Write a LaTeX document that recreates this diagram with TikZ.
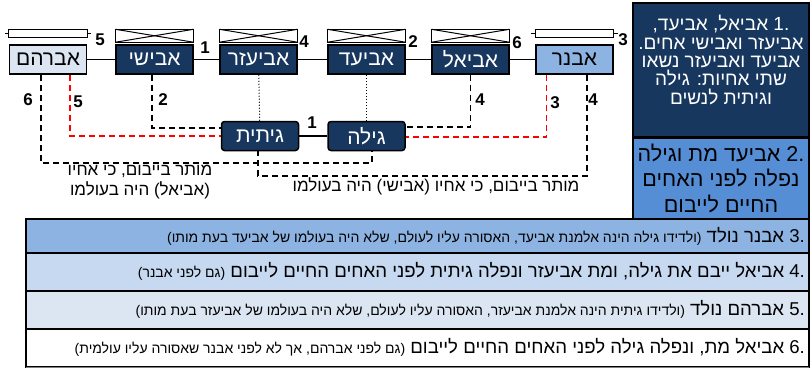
\documentclass[tikz,border=0pt]{standalone}
\usepackage{fontspec}
\setmainfont{Liberation Sans}[Script=Hebrew]
\TeXXeTstate=1
\definecolor{navy}{HTML}{17375E}
\definecolor{pale}{HTML}{DCE6F2}
\definecolor{paleblue}{HTML}{C6D9F1}
\definecolor{midblue}{HTML}{8DB3E2}
\definecolor{boxblue}{HTML}{558ED5}
\definecolor{levred}{HTML}{FF0000}
\newcommand{\rtl}[1]{\beginR #1\endR}

\tikzset{
  brother/.style={draw=black, line width=1.5pt, fill=navy, text=white,
    minimum width=77pt, minimum height=29pt, inner sep=0pt,
    font=\fontsize{21}{21}\selectfont},
  widow/.style={brother, rounded corners=3pt},
  num/.style={inner sep=0pt, font=\bfseries\fontsize{17}{17}\selectfont},
  link/.style={line width=1.5pt},
  levir/.style={line width=1.5pt, dash pattern=on 6pt off 4pt},
  rowtext/.style={anchor=east, inner sep=0pt, font=\fontsize{18.6}{20}\selectfont},
  note/.style={inner sep=0pt, font=\fontsize{17}{20}\selectfont, align=center}
}
\newcommand{\smalltext}[1]{{\fontsize{14}{14}\selectfont #1}}

\begin{document}
\begin{tikzpicture}[x=1pt,y=-1pt]
\useasboundingbox (0,0) rectangle (810,370);

% the six brothers
\node[brother, fill=pale, text=black] (avraham) at (48,59.5) {\rtl{אברהם}};
\foreach \nm/\cx/\lbl in {avishai/154.5/אבישי, aviezer/258.5/אביעזר, aviad/366.5/אביעד, aviel/470.5/אביאל}
{
	\node[brother] (\nm) at (\cx,59.5) {\rtl{\lbl}};
	\draw[line width=1pt] ([yshift=2pt]\nm.north west) rectangle ([yshift=15pt]\nm.north east);
	\draw[line width=1pt] ([yshift=2pt]\nm.north west) -- ([yshift=15pt]\nm.north east);
	\draw[line width=1pt] ([yshift=15pt]\nm.north west) -- ([yshift=2pt]\nm.north east);
}
\node[brother, fill=midblue, text=black] (avner) at (574.5,59.5) {\rtl{אבנר}};
\foreach \nm in {avraham,avner}
{
	\draw[line width=1pt] ([yshift=7pt]\nm.north west) rectangle ([yshift=15pt]\nm.north east);
	\draw[line width=1pt] ([yshift=11pt]\nm.north west) -- ++(-4,0);
	\draw[line width=1pt] ([yshift=11pt]\nm.north east) -- ++(4,0);
}

% the two sisters
\node[widow] (gitit) at (260,136) {\rtl{גיתית}};
\node[widow] (gila) at (366.5,136) {\rtl{גילה}};

\draw[link] (avraham) -- (avishai);
\draw[link] (avishai) -- (aviezer);
\draw[link] (aviezer) -- (aviad);
\draw[link] (aviad) -- (aviel);
\draw[link] (aviel) -- (avner);
\draw[link] (gitit) -- (gila);
\draw[line width=1pt, dotted] (aviezer) -- (gitit);
\draw[line width=1pt, dotted] (aviad) -- (gila);

% levirate links
\draw[levir] ([xshift=-2.5pt]avishai.south) |- ([yshift=8pt]gitit.west);
\draw[levir, levred] ([xshift=22pt]avraham.south) |- (gitit.west);
\draw[levir] ([xshift=-7pt]avraham.south) -- ++(0,88) -| ([xshift=5.5pt]gila.south);
\draw[levir] (aviel.south) |- ([yshift=9pt]gila.east);
\draw[levir, levred] ([xshift=-28pt]avner.south) |- ([yshift=-1pt]gila.east);
\draw[levir] ([xshift=12.5pt]avner.south) -- ++(0,101) -| ([xshift=-2pt]gitit.south);

% order numbers
\node[num] (n5a) at (100,40) {5};
\node[num] (n1a) at (205,48) {1};
\node[num] (n4a) at (304,42) {4};
\node[num] (n2a) at (413,42) {2};
\node[num] (n6a) at (517,43) {6};
\node[num] (n3a) at (623,40) {3};
\node[num] (n6b) at (28,100) {6};
\node[num] (n5b) at (78,102) {5};
\node[num] (n2b) at (163,100) {2};
\node[num] (n1b) at (312,123) {1};
\node[num] (n4b) at (480,100) {4};
\node[num] (n3b) at (555,103) {3};
\node[num] (n4c) at (593,100) {4};

\node[note] (allowa) at (140,182) {\rtl{מותר בייבום, כי אחיו}\\\rtl{(אביאל) היה בעולמו}};
\node[note] (allowb) at (436,186) {\rtl{מותר בייבום, כי אחיו (אבישי) היה בעולמו}};

% side notes
\draw[line width=1.5pt, fill=navy] (633,3) rectangle (809,137);
\draw[line width=1.5pt, fill=boxblue] (633,138) rectangle (809,219);
\node[note, text=white, font=\fontsize{19}{18.4}\selectfont] (step1) at (721,60)
	{\rtl{.1 אביאל, אביעד,}\\\rtl{אביעזר ואבישי אחים.}\\\rtl{אביעד ואביעזר נשאו}\\\rtl{שתי אחיות: גילה}\\\rtl{וגיתית לנשים}};
\node[note, font=\fontsize{21.5}{25.5}\selectfont] (step2) at (721,178)
	{\rtl{.2 אביעד מת וגילה}\\\rtl{נפלה לפני האחים}\\\rtl{החיים לייבום}};

% event rows
\foreach \top/\bot/\col in {219/253/midblue, 253/291/paleblue, 291/329/pale, 329/367/white}
{
	\draw[line width=1.5pt, fill=\col] (26,\top) rectangle (809,\bot);
}
\draw[line width=1pt, gray] (26,367) -- (809,367);
\node[rowtext] (step3) at (805,236) {\rtl{.3 אבנר נולד \smalltext{(ולדידו גילה הינה אלמנת אביעד, האסורה עליו לעולם, שלא היה בעולמו של אביעד בעת מותו)}}};
\node[rowtext] (step4) at (805,271) {\rtl{.4 אביאל ייבם את גילה, ומת אביעזר ונפלה גיתית לפני האחים החיים לייבום \smalltext{(גם לפני אבנר)}}};
\node[rowtext] (step5) at (805,309) {\rtl{.5 אברהם נולד \smalltext{(ולדידו גיתית הינה אלמנת אביעזר, האסורה עליו לעולם, שלא היה בעולמו של אביעזר בעת מותו)}}};
\node[rowtext] (step6) at (805,347) {\rtl{.6 אביאל מת, ונפלה גילה לפני האחים החיים לייבום \smalltext{(גם לפני אברהם, אך לא לפני אבנר שאסורה עליו עולמית)}}};
\end{tikzpicture}
\end{document}
